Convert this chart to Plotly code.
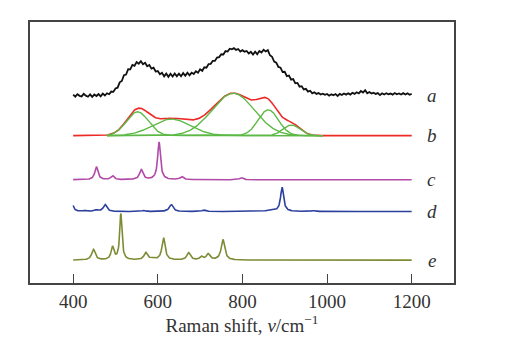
import numpy as np
import plotly.graph_objects as go

# ---------------- data ----------------
# a: measured spectrum, sampled every 5 cm-1 from 400 to 1200 (height above its baseline)
a_start, a_step = 400, 5
a_values = [
    0.8, -1.2, 1.3, -0.4, -1.0, 1.6, -0.2, -1.3, 1.1, -1.5,
    0.9, -0.6, 1.4, -0.9, 1.8, -0.1, 2.2, 1.2, 3.9, 3.6,
    7.0, 7.8, 13.2, 14.6, 20.4, 21.0, 26.5, 26.3, 30.8, 29.9,
    33.6, 32.0, 34.5, 31.4, 32.9, 29.4, 30.6, 27.0, 27.9, 24.1,
    24.6, 21.4, 22.8, 19.2, 22.0, 18.8, 21.9, 19.1, 22.2, 19.4,
    22.0, 19.3, 22.5, 19.8, 22.9, 20.2, 23.0, 21.6, 24.4, 22.9,
    26.3, 24.8, 28.4, 28.0, 31.6, 31.8, 34.9, 34.8, 38.2, 38.6,
    41.5, 41.3, 44.7, 44.2, 47.1, 46.4, 47.6, 45.9, 46.8, 44.3,
    45.6, 44.1, 44.8, 42.2, 43.9, 41.2, 44.1, 41.6, 44.7, 43.2,
    46.0, 44.3, 45.6, 40.5, 39.0, 34.2, 33.1, 28.7, 28.0, 23.6,
    23.8, 19.5, 20.1, 15.9, 16.5, 12.2, 12.6, 8.8, 9.3, 6.0,
    6.6, 3.9, 4.7, 2.1, 3.2, 1.5, 2.4, 0.9, 1.8, 0.6,
    1.5, -0.3, 1.2, 0.1, 1.4, -0.5, 1.6, 0.4, 1.9, 0.8,
    2.1, 0.9, 2.7, 1.6, 3.2, 2.0, 4.4, 2.9, 5.3, 2.1,
    3.4, 1.9, 2.8, 1.5, 2.3, 0.3, 2.2, 0.9, 2.2, 1.1,
    1.9, 0.8, 2.4, 1.2, 2.0, 0.9, 2.3, 1.0, 2.1, 0.7,
    1.5,
]

# b: fitted Gaussian components (centre, height, sigma)
b_centers = [552, 632, 778, 861, 916]
b_heights = [24.0, 16.7, 42.7, 26.0, 10.7]
b_sigmas = [26, 45, 50, 24, 20]
b_fit_range = [480, 990]

# c, d, e: reference spectra, Lorentzian bands (centre, height, half-width)
c_centers = [455, 493, 561, 603, 657, 798]
c_heights = [13.0, 4.0, 10.0, 38.0, 3.0, 2.0]
c_widths = [4.5, 4.5, 5.0, 4.0, 5.0, 5.0]

d_centers = [396, 428, 455, 475.6, 567, 632, 709, 865, 893.7, 968]
d_heights = [12.0, 1.0, 1.5, 7.0, 1.0, 7.0, 1.5, 1.2, 24.5, 1.0]
d_widths = [4, 5, 5, 5, 5, 5.5, 5, 10, 4.3, 5]

e_centers = [448, 493, 512.7, 571.7, 586, 613.5, 673, 703, 719, 754]
e_heights = [10.7, 13.0, 46.7, 7.3, 1.5, 22.7, 7.3, 3.3, 6.0, 20.7]
e_widths = [5, 4, 3.2, 5, 5, 4.5, 5, 4, 5, 5]

labels = ["a", "b", "c", "d", "e"]
offsets = [189, 148.5, 104, 72, 23]

x_ticks = [400, 600, 800, 1000, 1200]

# ---------------- build curves ----------------
xs = np.arange(400, 1200.5, 1.0)


def lorentz_sum(x, centers, heights, widths):
    y = np.zeros_like(x)
    for c, h, w in zip(centers, heights, widths):
        y += h * w ** 2 / ((x - c) ** 2 + w ** 2)
    return y


def gauss(x, c, h, s):
    return h * np.exp(-((x - c) ** 2) / (2 * s ** 2))


colors = {
    "a": "#111111",
    "red": "#ec2a26",
    "green": "#5cb946",
    "c": "#b24aa9",
    "d": "#2b3f9c",
    "e": "#7e8b34",
}

fig = go.Figure()

# a
a_x = [a_start + i * a_step for i in range(len(a_values))]
fig.add_trace(go.Scatter(x=a_x, y=[v + offsets[0] for v in a_values], mode="lines",
                         line=dict(color=colors["a"], width=1.8), hoverinfo="skip"))

# b envelope (red) then components (green)
env = np.zeros_like(xs)
for c, h, s in zip(b_centers, b_heights, b_sigmas):
    env += gauss(xs, c, h, s)
fig.add_trace(go.Scatter(x=xs, y=env + offsets[1], mode="lines",
                         line=dict(color=colors["red"], width=1.6), hoverinfo="skip"))
mask = (xs >= b_fit_range[0]) & (xs <= b_fit_range[1])
for c, h, s in zip(b_centers, b_heights, b_sigmas):
    fig.add_trace(go.Scatter(x=xs[mask], y=gauss(xs[mask], c, h, s) + offsets[1], mode="lines",
                             line=dict(color=colors["green"], width=1.4), hoverinfo="skip"))

# c, d, e
for key, cen, hei, wid, off in [
    ("c", c_centers, c_heights, c_widths, offsets[2]),
    ("d", d_centers, d_heights, d_widths, offsets[3]),
    ("e", e_centers, e_heights, e_widths, offsets[4]),
]:
    fig.add_trace(go.Scatter(x=xs, y=lorentz_sum(xs, cen, hei, wid) + off, mode="lines",
                             line=dict(color=colors[key], width=1.6), hoverinfo="skip"))

serif = "Liberation Serif, Times New Roman, serif"

for lab, off in zip(labels, offsets):
    fig.add_annotation(x=1247, y=off, text=f"<i>{lab}</i>", showarrow=False,
                       xanchor="center", yanchor="middle",
                       font=dict(family=serif, size=19, color="#333333"))

fig.update_layout(
    width=506, height=356,
    margin=dict(l=22, r=60, t=12, b=81),
    paper_bgcolor="white", plot_bgcolor="white",
    showlegend=False,
    font=dict(family=serif, color="#333333"),
)
fig.update_xaxes(
    range=[298, 1300], tickvals=x_ticks, ticktext=[str(t) for t in x_ticks],
    ticks="inside", ticklen=9, tickwidth=1.2, tickcolor="#444444",
    showline=True, linecolor="#444444", linewidth=1.5, mirror=True,
    showgrid=False, zeroline=False,
    tickfont=dict(family=serif, size=19, color="#333333"),
    title=dict(text="Raman shift, <i>ν</i>/cm<sup>−1</sup>", standoff=8,
               font=dict(family=serif, size=19, color="#333333")),
)
fig.update_yaxes(
    range=[0, 263], showticklabels=False, ticks="",
    showline=True, linecolor="#444444", linewidth=1.5, mirror=True,
    showgrid=False, zeroline=False,
)

fig.write_html("out.html")
